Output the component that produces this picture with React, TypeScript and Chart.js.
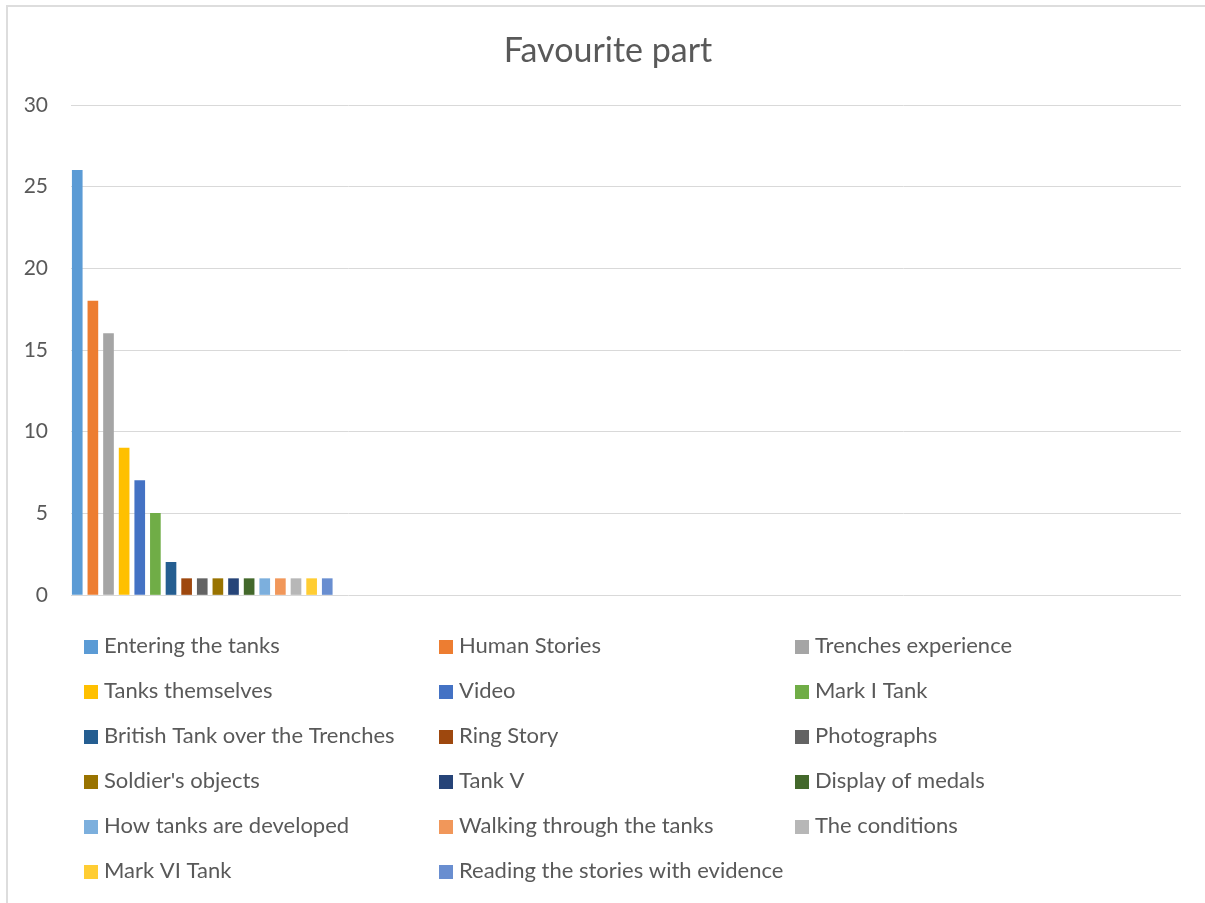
import React, { useEffect, useRef } from 'react';
import { Chart, registerables } from 'chart.js';

Chart.register(...registerables);

const chartTitle = 'Favourite part';

const categories = [
  'Entering the tanks',
  'Human Stories',
  'Trenches experience',
  'Tanks themselves',
  'Video',
  'Mark I Tank',
  'British Tank over the Trenches',
  'Ring Story',
  'Photographs',
  "Soldier's objects",
  'Tank V',
  'Display of medals',
  'How tanks are developed',
  'Walking through the tanks',
  'The conditions',
  'Mark VI Tank',
  'Reading the stories with evidence',
];

const values = [26, 18, 16, 9, 7, 5, 2, 1, 1, 1, 1, 1, 1, 1, 1, 1, 1];

const colors = [
  '#5B9BD5', '#ED7D31', '#A5A5A5', '#FFC000', '#4472C4', '#70AD47',
  '#255E91', '#9E480E', '#636363', '#997300', '#264478', '#43682B',
  '#7CAFDD', '#F1975A', '#B7B7B7', '#FFCD33', '#698ED0',
];

const yMin = 0;
const yMax = 30;
const yStep = 5;

const FONT = 'Lato, "Open Sans", "DejaVu Sans", sans-serif';
const TEXT = '#595959';
const GRID = '#d9d9d9';

const legendCols = [84, 439, 795];
const legendTop = 647;
const legendRowGap = 45;

const overlayPlugin = {
  id: 'overlay',
  afterDraw(chart: any) {
    const ctx = chart.ctx;
    ctx.save();
    ctx.fillStyle = TEXT;
    ctx.font = `400 34px ${FONT}`;
    ctx.textAlign = 'center';
    ctx.textBaseline = 'alphabetic';
    ctx.fillText(chartTitle, 608, 62);

    ctx.font = `400 22px ${FONT}`;
    ctx.textAlign = 'left';
    ctx.textBaseline = 'middle';
    chart.data.datasets.forEach((ds: any, i: number) => {
      const x = legendCols[i % 3];
      const y = legendTop + legendRowGap * Math.floor(i / 3);
      ctx.fillStyle = ds.backgroundColor;
      ctx.fillRect(x, y - 7, 14, 14);
      ctx.fillStyle = TEXT;
      ctx.fillText(ds.label, x + 20, y - 1);
    });
    ctx.restore();
  },
};

export default function App() {
  const ref = useRef<HTMLCanvasElement | null>(null);

  useEffect(() => {
    if (!ref.current) return;
    const chart = new Chart(ref.current, {
      type: 'bar',
      data: {
        datasets: categories.map((c, i) => ({
          label: c,
          data: [{ x: i, y: values[i] }],
          backgroundColor: colors[i],
          borderWidth: 0,
          barThickness: 10,
          grouped: false,
        })) as any,
      },
      options: {
        responsive: false,
        animation: false,
        layout: { padding: { top: 105, bottom: 308, left: 0, right: 24 } },
        plugins: {
          legend: { display: false },
          tooltip: { enabled: false },
          title: { display: false },
        },
        scales: {
          x: {
            type: 'linear',
            display: false,
            offset: false,
            min: -0.4,
            max: 70.64,
          },
          y: {
            min: yMin,
            max: yMax,
            border: { display: false },
            grid: { color: GRID, lineWidth: 1, drawTicks: false },
            ticks: {
              stepSize: yStep,
              padding: 23,
              color: TEXT,
              font: { family: FONT, size: 21 },
            },
            afterFit(scale: any) {
              scale.width = 71;
            },
          },
        },
      } as any,
      plugins: [overlayPlugin],
    });
    return () => chart.destroy();
  }, []);

  return (
    <div>
      <div
        style={{
          position: 'fixed',
          left: 6,
          top: 5,
          width: 1400,
          height: 1100,
          border: '2px solid #dddddd',
          boxSizing: 'border-box',
        }}
      />
      <canvas
        ref={ref}
        width={1205}
        height={903}
        style={{ position: 'fixed', left: 0, top: 0, width: 1205, height: 903 }}
      />
    </div>
  );
}
